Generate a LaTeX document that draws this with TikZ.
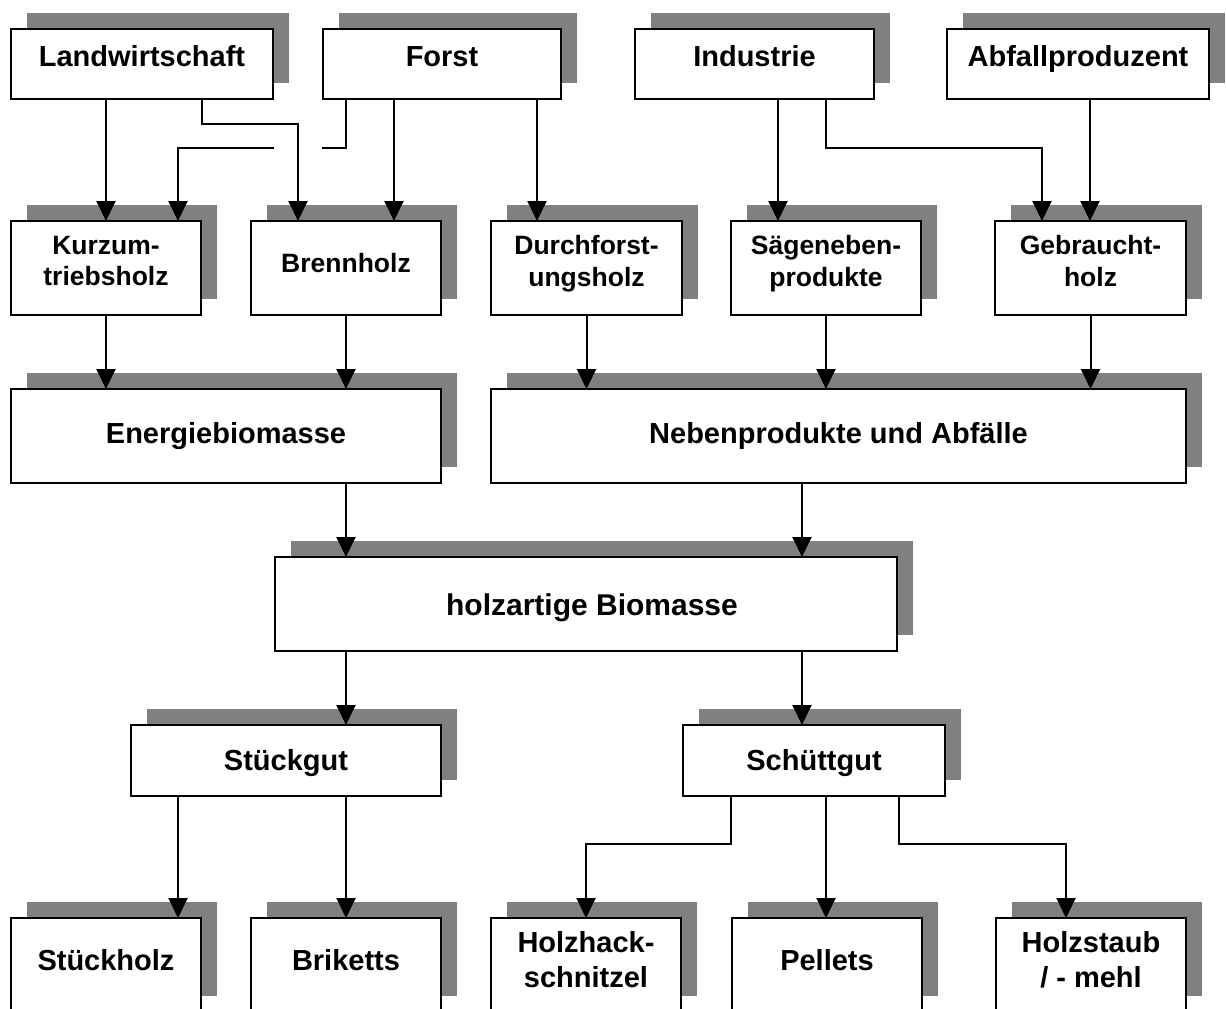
\documentclass[tikz,border=0pt]{standalone}
\usepackage{fontspec}
\setmainfont{Liberation Sans}
\usetikzlibrary{arrows.meta,shadows}
\definecolor{shadegray}{RGB}{128,128,128}
\begin{document}
\begin{tikzpicture}[x=1pt,y=-1pt,
  box/.style={draw=black, line width=2pt, fill=white, rectangle, inner sep=0pt, outer sep=0pt,
    general shadow={fill=shadegray, shadow xshift=16pt, shadow yshift=16pt}},
  w1/.style={minimum width=#1pt},
  rowA/.style={minimum height=70pt},
  rowB/.style={minimum height=94pt},
  rowC/.style={minimum height=71pt},
  tA/.style={font=\bfseries\fontsize{29}{34.8}\selectfont, align=center, inner sep=0pt},
  tB/.style={font=\bfseries\fontsize{26.5}{31.5}\selectfont, align=center, inner sep=0pt},
  tH/.style={font=\bfseries\fontsize{30}{36}\selectfont, align=center, inner sep=0pt},
  line/.style={draw=black, line width=2pt},
  conn/.style={line, -{Triangle[length=20pt,width=19pt]}}
]
\useasboundingbox (0,0) rectangle (1226,1009);
\clip (0,0) rectangle (1226,1009);
\fill[white] (0,0) rectangle (1226,1009);

% row 1
\node[box, rowA, w1=262] (lw) at (142,64) {};
\node[box, rowA, w1=238] (fo) at (442,64) {};
\node[box, rowA, w1=239] (in) at (754.5,64) {};
\node[box, rowA, w1=262] (ab) at (1078,64) {};
% row 2
\node[box, rowB, w1=190] (ku) at (106,268) {};
\node[box, rowB, w1=190] (br) at (346,268) {};
\node[box, rowB, w1=191] (du) at (586.5,268) {};
\node[box, rowB, w1=190] (sa) at (826,268) {};
\node[box, rowB, w1=191] (ge) at (1090.5,268) {};
% row 3
\node[box, rowB, w1=430] (en) at (226,436) {};
\node[box, rowB, w1=695] (ne) at (838.5,436) {};
% row 4
\node[box, rowB, w1=622] (ho) at (586,604) {};
% row 5
\node[box, rowC, w1=310] (st) at (286,760.5) {};
\node[box, rowC, w1=262] (sc) at (814,760.5) {};
% row 6
\node[box, rowB, w1=190] (sh) at (106,965) {};
\node[box, rowB, w1=190] (bk) at (346,965) {};
\node[box, rowB, w1=190] (hh) at (586,965) {};
\node[box, rowB, w1=190] (pe) at (827,965) {};
\node[box, rowB, w1=190] (hs) at (1091,965) {};

% texts
\node[tA, anchor=base] (lw-t) at (142,66) {Landwirtschaft};
\node[tA, anchor=base] (fo-t) at (442,66) {Forst};
\node[tA, anchor=base] (in-t) at (754.5,66) {Industrie};
\node[tA, anchor=base] (ab-t) at (1078,66) {Abfallproduzent};
\node[tB] (ku-t) at (106,261) {Kurzum-\\triebsholz};
\node[tB, anchor=base] (br-t) at (346,272) {Brennholz};
\node[tB] (du-t) at (586.5,263.5) {Durchforst-\\ungsholz};
\node[tB] (sa-t) at (826,263.5) {Sägeneben-\\produkte};
\node[tB] (ge-t) at (1090.5,261) {Gebraucht-\\holz};
\node[tA, anchor=base] (en-t) at (226,443) {Energiebiomasse};
\node[tA, anchor=base] (ne-t) at (838.5,443) {Nebenprodukte und Abfälle};
\node[tH, anchor=base] (ho-t) at (592,615) {holzartige Biomasse};
\node[tA, anchor=base] (st-t) at (286,770) {Stückgut};
\node[tA, anchor=base] (sc-t) at (814,770) {Schüttgut};
\node[tA, anchor=base] (sh-t) at (106,970) {Stückholz};
\node[tA, anchor=base] (bk-t) at (346,970) {Briketts};
\node[tA] (hh-t) at (586,960) {Holzhack-\\schnitzel};
\node[tA, anchor=base] (pe-t) at (827,970) {Pellets};
\node[tA] (hs-t) at (1091,960) {Holzstaub\\/ - mehl};

% connectors row 1 -> row 2
\coordinate (gapR) at (322,148);
\coordinate (gapL) at (274,148);
\draw[conn] (lw.south -| ku.north) -- (ku.north);
\draw[conn] (202,0 |- lw.south) |- (298,124) -- (298,0 |- br.north);
\draw[line] (346,0 |- fo.south) |- (gapR);
\draw[conn] (gapL) -| (178,0 |- ku.north);
\draw[conn] (394,0 |- fo.south) -- (394,0 |- br.north);
\draw[conn] (537,0 |- fo.south) -- (537,0 |- du.north);
\draw[conn] (778,0 |- in.south) -- (778,0 |- sa.north);
\draw[conn] (826,0 |- in.south) |- (1042,148) -- (1042,0 |- ge.north);
\draw[conn] (1090,0 |- ab.south) -- (1090,0 |- ge.north);
% row 2 -> row 3
\draw[conn] (ku.south) -- (ku.south |- en.north);
\draw[conn] (br.south) -- (br.south |- en.north);
\draw[conn] (du.south) -- (du.south |- ne.north);
\draw[conn] (sa.south) -- (sa.south |- ne.north);
\draw[conn] (ge.south) -- (ge.south |- ne.north);
% row 3 -> row 4
\draw[conn] (346,0 |- en.south) -- (346,0 |- ho.north);
\draw[conn] (802,0 |- ne.south) -- (802,0 |- ho.north);
% row 4 -> row 5
\draw[conn] (346,0 |- ho.south) -- (346,0 |- st.north);
\draw[conn] (802,0 |- ho.south) -- (802,0 |- sc.north);
% row 5 -> row 6
\draw[conn] (178,0 |- st.south) -- (178,0 |- sh.north);
\draw[conn] (346,0 |- st.south) -- (bk.north);
\draw[conn] (731,0 |- sc.south) |- (586,844) -- (hh.north);
\draw[conn] (826,0 |- sc.south) -- (826,0 |- pe.north);
\draw[conn] (899,0 |- sc.south) |- (1066,844) -- (1066,0 |- hs.north);
\end{tikzpicture}
\end{document}
